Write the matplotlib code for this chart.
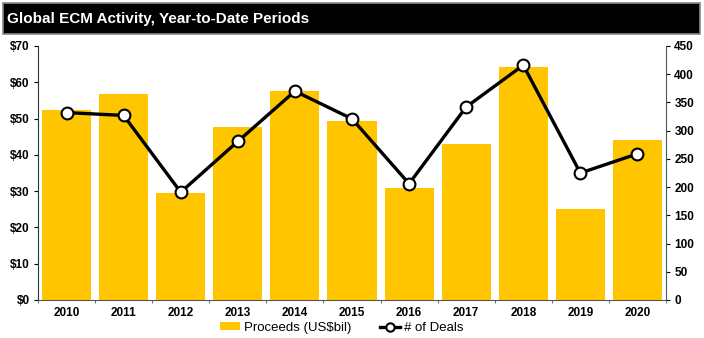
import matplotlib
matplotlib.use("Agg")
import matplotlib.pyplot as plt
from matplotlib.patches import Rectangle
from matplotlib.lines import Line2D
from matplotlib.patches import Patch

years = ["2010", "2011", "2012", "2013", "2014", "2015", "2016", "2017", "2018", "2019", "2020"]
proceeds = [52.3, 56.7, 29.4, 47.7, 57.6, 49.2, 30.9, 42.9, 64.2, 25.0, 44.2]
deals = [332, 327, 191, 281, 370, 321, 206, 342, 416, 225, 259]
left_ticks = [0, 10, 20, 30, 40, 50, 60, 70]
left_labels = ["$0", "$10", "$20", "$30", "$40", "$50", "$60", "$70"]
right_ticks = [0, 50, 100, 150, 200, 250, 300, 350, 400, 450]

plt.rcParams['font.family'] = ['Liberation Sans', 'DejaVu Sans']
YELLOW = "#FFC600"

fig = plt.figure(figsize=(7.04, 3.38), dpi=100)
# title bar
fig.patches.append(Rectangle((3/704, 1 - 34/338), 697/704, 31/338, transform=fig.transFigure,
                             facecolor="black", edgecolor="#888888", linewidth=1.2, zorder=0))
fig.text(7/704, 1 - 19/338, "Global ECM Activity, Year-to-Date Periods", color="white",
         fontsize=11, fontweight="bold", va="center", ha="left")

ax = fig.add_axes([38/704, 38/338, 628/704, 254/338])
x = list(range(len(years)))
ax.bar(x, proceeds, width=0.86, color=YELLOW, zorder=1)
ax.set_xlim(-0.5, len(years) - 0.5)
ax.set_ylim(0, 70)
ax.set_yticks(left_ticks)
ax.set_yticklabels(left_labels)
ax.set_xticks(x)
ax.set_xticklabels(years)
ax.set_xticks([i + 0.5 for i in range(-1, len(years))], minor=True)
ax.tick_params(axis='x', which='major', length=0, pad=5, labelsize=8.5)
ax.tick_params(axis='x', which='minor', length=2.5, direction='out', color='#555555')
ax.tick_params(axis='y', length=3, direction='out', labelsize=8.5, pad=3)
for lbl in ax.get_xticklabels() + ax.get_yticklabels():
    lbl.set_fontweight('bold')
ax.spines['top'].set_visible(False)
ax.spines['right'].set_visible(False)
ax.spines['left'].set_color('#333333')
ax.spines['bottom'].set_color('#555555')

ax2 = ax.twinx()
ax2.plot(x, deals, color="black", linewidth=2.4, marker='o', markersize=8.5,
         markerfacecolor="white", markeredgecolor="black", markeredgewidth=1.5, zorder=3)
ax2.set_ylim(0, 450)
ax2.set_yticks(right_ticks)
ax2.tick_params(axis='y', length=3, direction='out', labelsize=8.5, pad=3)
for lbl in ax2.get_yticklabels():
    lbl.set_fontweight('bold')
ax2.spines['top'].set_visible(False)
ax2.spines['left'].set_visible(False)
ax2.spines['bottom'].set_visible(False)
ax2.spines['right'].set_color('#555555')

handles = [Patch(facecolor=YELLOW, edgecolor='none'),
           Line2D([0], [0], color='black', linewidth=2.4, marker='o', markersize=6,
                  markerfacecolor='white', markeredgecolor='black', markeredgewidth=1.5)]
fig.legend(handles, ["Proceeds (US$bil)", "# of Deals"], loc='center',
           bbox_to_anchor=(342/704, 1 - 328/338), ncol=2, frameon=False,
           prop={'size': 9.5}, handlelength=1.5, handleheight=0.55,
           columnspacing=2.2, handletextpad=0.3)

fig.savefig("out.png", dpi=100)
